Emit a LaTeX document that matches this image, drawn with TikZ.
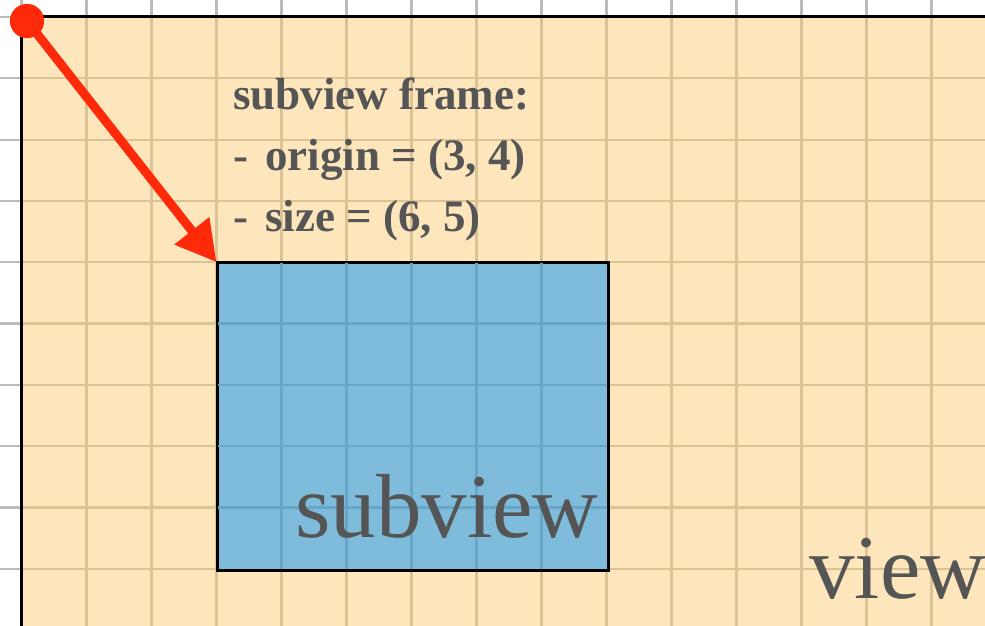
\documentclass[tikz,border=0pt]{standalone}
\usepackage{fontspec}
\setmainfont{Liberation Serif}
\usetikzlibrary{arrows.meta}
\definecolor{viewfill}{HTML}{FEE6BC}
\definecolor{subfill}{HTML}{7FBCDC}
\definecolor{viewgridc}{HTML}{DCC396}
\definecolor{subgridc}{HTML}{68A6C8}
\definecolor{outergridc}{HTML}{BBBBBB}
\definecolor{arrowred}{HTML}{FF2A0A}
\definecolor{textgray}{HTML}{555555}
\tikzset{
  outergrid/.style={draw=outergridc, line width=2.2pt},
  viewgrid/.style={draw=viewgridc, line width=2.2pt},
  subgrid/.style={draw=subgridc, line width=2.2pt},
  subviewbox/.style={draw=black, line width=2pt, fill=subfill, rectangle, inner sep=0pt, minimum width=390pt, minimum height=306.5pt},
  dotnode/.style={circle, fill=arrowred, inner sep=0pt, minimum size=34pt},
  redarrow/.style={draw=arrowred, line width=9pt, -{Triangle[length=40pt,width=42pt]}},
  labeltext/.style={text=textgray, font=\fontsize{45}{45}\selectfont\bfseries, inner sep=0pt},
  bigtext/.style={text=textgray, font=\fontsize{91}{91}\selectfont, inner sep=0pt}
}
\begin{document}
\begin{tikzpicture}[x=1pt,y=-1pt]
\useasboundingbox (0,0) rectangle (985,626);
\fill[white] (0,0) rectangle (985,626);
% outer grid
\foreach \i in {0,...,15} \draw[outergrid] ({21.5+65*\i},0) -- ({21.5+65*\i},626);
\foreach \j in {0,...,10} \draw[outergrid] (0,{17+61.3*\j}) -- (985,{17+61.3*\j});
% view
\fill[viewfill] (21.5,17) rectangle (990,630);
\begin{scope}
  \clip (21.5,17) rectangle (990,630);
  \foreach \i in {0,...,15} \draw[viewgrid] ({21.5+65*\i},0) -- ({21.5+65*\i},626);
  \foreach \j in {0,...,10} \draw[viewgrid] (0,{17+61.3*\j}) -- (985,{17+61.3*\j});
\end{scope}
% subview
\node[subviewbox, anchor=north west] (subview) at (216.5,262.2) {};
\begin{scope}
  \clip (216.5,262.2) rectangle (606.5,568.7);
  \foreach \i in {4,...,8} \draw[subgrid] ({21.5+65*\i},262.2) -- ({21.5+65*\i},568.7);
  \foreach \j in {5,...,8} \draw[subgrid] (216.5,{17+61.3*\j}) -- (606.5,{17+61.3*\j});
\end{scope}
\draw[line width=2pt] (subview.north west) rectangle (subview.south east);
% view border
\coordinate (viewbl) at (21.5,626);
\coordinate (viewtl) at (21.5,17);
\coordinate (viewtr) at (985,17);
\draw[line width=3pt] (viewbl) -- (viewtl) -- (viewtr);
% texts
\node[labeltext, anchor=base west] (title) at (233,110) {subview frame:};
\node[labeltext, anchor=base west] (dash1) at (233,170) {-};
\node[labeltext, anchor=base west] (originline) at (265,170) {origin = (3, 4)};
\node[labeltext, anchor=base west] (dash2) at (233,231) {-};
\node[labeltext, anchor=base west] (sizeline) at (265,231) {size = (6, 5)};
\node[bigtext, anchor=base west] (subviewlabel) at (295,537) {subview};
\node[bigtext, anchor=base west] (viewlabel) at (809,598) {view};
% arrow
\node[dotnode] (originpt) at (27,21) {};
\draw[redarrow] (originpt.center) -- (subview.north west);
\node[dotnode] at (originpt) {};
\end{tikzpicture}
\end{document}
